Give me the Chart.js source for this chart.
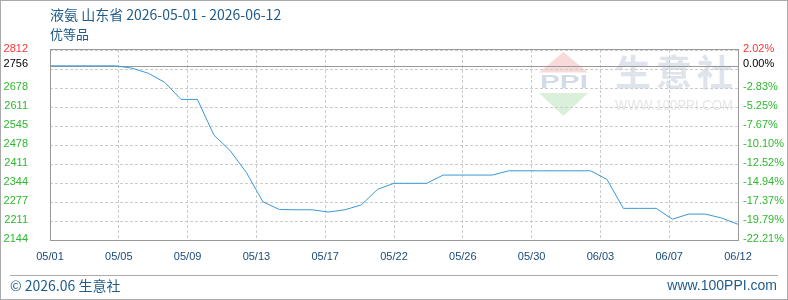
<!DOCTYPE html>
<html>
<head>
<meta charset="utf-8">
<script src="https://cdn.jsdelivr.net/npm/chart.js@4/dist/chart.umd.min.js"></script>
<style>
  html, body { margin: 0; padding: 0; background: #fff; }
  #wrap { width: 788px; height: 300px; position: relative; }
</style>
</head>
<body>
<div id="wrap"><canvas id="priceChart" width="788" height="300"></canvas></div>
<script>
// daily quotes, 2026-05-01 .. 2026-06-12
const days = [
  '05/01','05/02','05/03','05/04','05/05','05/06','05/07','05/08','05/09','05/10',
  '05/11','05/12','05/13','05/14','05/15','05/16','05/17','05/18','05/19','05/20',
  '05/21','05/22','05/23','05/24','05/25','05/26','05/27','05/28','05/29','05/30',
  '05/31','06/01','06/02','06/03','06/04','06/05','06/06','06/07','06/08','06/09',
  '06/10','06/11','06/12'
];
const prices = [
  2756, 2756, 2756, 2756, 2756, 2748, 2730, 2698, 2638, 2638,
  2513, 2458, 2380, 2278, 2251, 2250, 2250, 2242, 2250, 2267,
  2322, 2343, 2343, 2343, 2372, 2372, 2372, 2372, 2387, 2387,
  2387, 2387, 2387, 2387, 2357, 2255, 2255, 2255, 2217, 2235,
  2235, 2221, 2199
];
const xTickLabels = ['05/01','05/05','05/09','05/13','05/17','05/22','05/26','05/30','06/03','06/07','06/12'];
const leftTickLabels = ['2144','2211','2277','2344','2411','2478','2545','2611','2678','','2756','2812'];
const rightTickLabels = ['-22.21%','-19.79%','-17.37%','-14.94%','-12.52%','-10.10%','-7.67%','-5.25%','-2.83%','','0.00%','2.02%'];
const basePrice = 2756;
const yMin = 2143.78;
const yMax = 2811.68;

const titleText = '液氨 山东省 2026-05-01 - 2026-06-12';
const subTitleText = '优等品';

const COLOR_UP = '#ff3333';
const COLOR_DOWN = '#2eb82e';
const COLOR_TEXT = '#1f5c8b';

function yTicks(scale) {
  const step = (yMax - yMin) / 10;
  const vals = [];
  for (let i = 0; i <= 10; i++) vals.push(yMin + step * i);
  vals.splice(10, 0, basePrice);
  scale.ticks = vals.map(v => ({ value: v }));
}

function isBase(v) { return Math.abs(v - basePrice) < 0.01; }

function tickColor(ctx) {
  const v = ctx.tick.value;
  if (isBase(v)) return '#000';
  return v > basePrice ? COLOR_UP : COLOR_DOWN;
}

const framePlugin = {
  id: 'frame',
  beforeDraw(chart) {
    const ctx = chart.ctx;
    ctx.save();
    ctx.fillStyle = '#fff';
    ctx.fillRect(0, 0, chart.width, chart.height);

    // watermark logo
    ctx.fillStyle = '#f9dada';
    ctx.beginPath();
    ctx.moveTo(563.5, 52); ctx.lineTo(588, 72.5); ctx.lineTo(539, 72.5); ctx.closePath();
    ctx.fill();
    ctx.fillStyle = '#daf0da';
    ctx.beginPath();
    ctx.moveTo(539, 93); ctx.lineTo(588, 93); ctx.lineTo(563.5, 116); ctx.closePath();
    ctx.fill();
    ctx.fillStyle = '#d3dbe8';
    ctx.font = 'bold 19px "Liberation Sans"';
    ctx.textBaseline = 'middle';
    ctx.textAlign = 'left';
    const pw = ctx.measureText('PPI').width;
    ctx.save();
    ctx.translate(540, 82.5);
    ctx.scale(48 / pw, 1);
    ctx.fillText('PPI', 0, 0);
    ctx.restore();

    ctx.fillStyle = '#dfe4ec';
    ctx.font = 'bold 36px "Noto Sans CJK SC"';
    ctx.textAlign = 'center';
    ['生', '意', '社'].forEach((c, i) => ctx.fillText(c, 633 + i * 41, 72));
    ctx.fillStyle = '#e6e6e6';
    ctx.font = '15px "Liberation Sans"';
    const ww = ctx.measureText('WWW.100PPI.COM').width;
    ctx.save();
    ctx.translate(674, 106);
    ctx.scale(118 / ww, 1);
    ctx.fillText('WWW.100PPI.COM', 0, 0);
    ctx.restore();
    ctx.restore();
  },
  beforeDatasetsDraw(chart) {
    const { ctx, chartArea, scales } = chart;
    const y = Math.round(scales.y.getPixelForValue(basePrice)) + 0.5;
    ctx.save();
    ctx.strokeStyle = '#999';
    ctx.lineWidth = 1;
    ctx.beginPath();
    ctx.moveTo(chartArea.left, y);
    ctx.lineTo(chartArea.right, y);
    ctx.stroke();
    ctx.restore();
  },
  afterDraw(chart) {
    const { ctx, chartArea } = chart;
    ctx.save();
    // plot box
    ctx.strokeStyle = '#999';
    ctx.lineWidth = 1;
    ctx.strokeRect(chartArea.left + 0.5, chartArea.top - 0.5,
      chartArea.right - chartArea.left, chartArea.bottom - chartArea.top + 1);

    // titles
    ctx.fillStyle = COLOR_TEXT;
    ctx.textBaseline = 'middle';
    ctx.textAlign = 'left';
    ctx.font = '14px "Noto Sans CJK SC"';
    ctx.fillText(titleText, 50, 15);
    ctx.font = '13px "Noto Sans CJK SC"';
    ctx.fillText(subTitleText, 50, 34);

    // footer
    ctx.strokeStyle = '#aaa';
    ctx.beginPath();
    ctx.moveTo(10, 275.5);
    ctx.lineTo(778, 275.5);
    ctx.stroke();
    ctx.font = '14px "Noto Sans CJK SC"';
    ctx.fillText('© 2026.06 生意社', 10, 286);
    ctx.textAlign = 'right';
    ctx.font = '14px "Liberation Sans"';
    ctx.fillText('www.100PPI.com', 777, 286);

    // outer frame
    ctx.strokeStyle = '#aaa';
    ctx.strokeRect(0.5, 0.5, chart.width - 1, chart.height - 1);
    ctx.restore();
  }
};

new Chart(document.getElementById('priceChart').getContext('2d'), {
  type: 'line',
  data: {
    datasets: [{
      data: prices.map((p, i) => ({ x: i, y: p })),
      borderColor: '#3a98d8',
      borderWidth: 1,
      pointRadius: 0,
      tension: 0,
      fill: false
    }]
  },
  options: {
    responsive: false,
    devicePixelRatio: 1,
    animation: false,
    layout: { padding: { top: 50, bottom: 28, left: 0, right: 0 } },
    plugins: { legend: { display: false }, tooltip: { enabled: false } },
    scales: {
      x: {
        type: 'linear',
        min: 0,
        max: days.length - 1,
        afterBuildTicks(scale) {
          const step = (days.length - 1) / (xTickLabels.length - 1);
          scale.ticks = xTickLabels.map((_, i) => ({ value: i * step }));
        },
        afterFit(scale) { scale.height = 32; },
        grid: { color: '#cccccc', drawTicks: false, lineWidth: 1 },
        border: { display: false, dash: [3, 2] },
        ticks: {
          autoSkip: false,
          maxRotation: 0,
          padding: 10,
          color: '#1a4a7a',
          font: { family: '"Liberation Sans"', size: 11 },
          callback: (v, i) => xTickLabels[i]
        }
      },
      y: {
        position: 'left',
        min: yMin,
        max: yMax,
        afterBuildTicks: yTicks,
        afterFit(scale) { scale.width = 50; },
        grid: {
          drawTicks: false,
          lineWidth: 1,
          color: ctx => (ctx.tick && isBase(ctx.tick.value)) ? 'rgba(0,0,0,0)' : '#cccccc'
        },
        border: { display: false, dash: [3, 2] },
        ticks: {
          padding: 22,
          labelOffset: -1.5,
          color: tickColor,
          font: { family: '"Liberation Sans"', size: 11 },
          callback: (v, i) => leftTickLabels[i]
        }
      },
      y2: {
        position: 'right',
        min: yMin,
        max: yMax,
        afterBuildTicks: yTicks,
        afterFit(scale) { scale.width = 50; },
        grid: { drawOnChartArea: false, drawTicks: false },
        border: { display: false },
        ticks: {
          padding: 5,
          labelOffset: -1.5,
          color: tickColor,
          font: { family: '"Liberation Sans"', size: 11 },
          callback: (v, i) => rightTickLabels[i]
        }
      }
    }
  },
  plugins: [framePlugin]
});
</script>
</body>
</html>
